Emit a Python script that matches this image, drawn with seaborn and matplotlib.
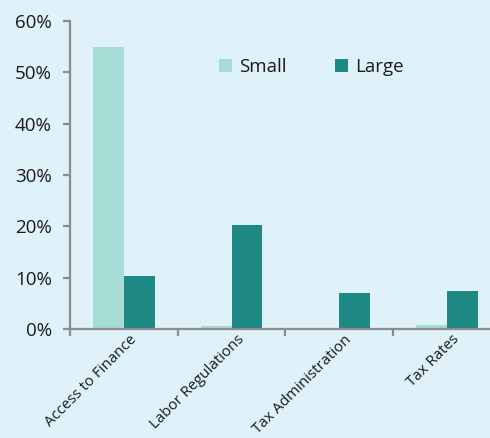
import matplotlib
matplotlib.use("Agg")
import matplotlib.pyplot as plt
import matplotlib.transforms as mtransforms
import seaborn as sns
import pandas as pd
from matplotlib.ticker import FixedLocator, PercentFormatter

categories = ["Access to Finance", "Labor Regulations", "Tax Administration", "Tax Rates"]
small = [55.0, 0.5, 0.0, 0.8]
large = [10.4, 20.3, 7.0, 7.5]
series = ["Small", "Large"]
yticks = [0, 10, 20, 30, 40, 50, 60]

df = pd.DataFrame({
    "category": categories * 2,
    "value": small + large,
    "size": ["Small"] * len(categories) + ["Large"] * len(categories),
})

bg = "#dff1f9"
sns.set_theme(style="white")
plt.rcParams["font.family"] = ["Open Sans", "DejaVu Sans"]

fig = plt.figure(figsize=(4.9, 4.38), dpi=100, facecolor=bg)
ax = fig.add_axes([70/490, 1 - 329/438, 1 - 70/490, (329 - 21)/438])
ax.set_facecolor(bg)

sns.barplot(data=df, x="category", y="value", hue="size", hue_order=series,
            order=categories, palette={"Small": "#a6dcd6", "Large": "#1e8884"},
            width=0.57, gap=0, saturation=1, ax=ax, linewidth=0)

ax.set_xlim(-0.5, 3.4)
ax.set_ylim(0, 60)
ax.set_yticks(yticks)
ax.yaxis.set_major_formatter(PercentFormatter(decimals=0))
ax.set_xlabel("")
ax.set_ylabel("")

for s in ["top", "right"]:
    ax.spines[s].set_visible(False)
for s in ["left", "bottom"]:
    ax.spines[s].set_color("#8c8c8c")
    ax.spines[s].set_linewidth(1.6)

ax.tick_params(axis="y", which="major", direction="out", length=5, width=1.6,
               color="#8c8c8c", labelsize=13.5, labelcolor="#1a1a1a", pad=8, left=True)
ax.tick_params(axis="x", which="major", length=0, labelsize=10.8, labelcolor="#1a1a1a", pad=3)
ax.xaxis.set_minor_locator(FixedLocator([-0.5, 0.5, 1.5, 2.5]))
ax.tick_params(axis="x", which="minor", direction="out", length=5, width=1.6,
               color="#8c8c8c", bottom=True)

offset = mtransforms.ScaledTranslation(5/100, 1/100, fig.dpi_scale_trans)
for lab in ax.get_xticklabels():
    lab.set_rotation(45)
    lab.set_ha("right")
    lab.set_rotation_mode("anchor")
    lab.set_transform(lab.get_transform() + offset)

leg = ax.legend(loc="center", bbox_to_anchor=(0.575, 0.85), ncol=2, frameon=False,
                fontsize=13.5, handlelength=0.65, handleheight=0.65, handletextpad=0.4,
                columnspacing=2.6)
for t in leg.get_texts():
    t.set_color("#1a1a1a")

fig.savefig("out.png", dpi=100, facecolor=bg)
